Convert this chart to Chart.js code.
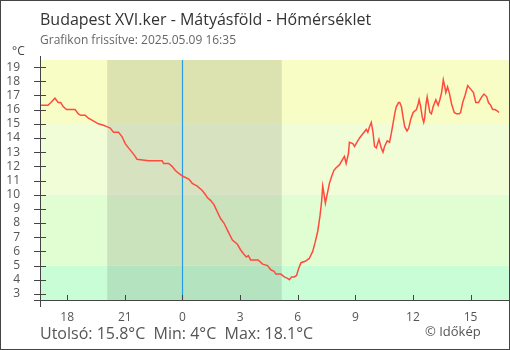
<!DOCTYPE html>
<html><head><meta charset="utf-8">
<script src="https://cdn.jsdelivr.net/npm/chart.js@4"></script>
<style>
html,body{margin:0;padding:0;background:#fff;}
#wrap{position:relative;width:510px;height:350px;font-family:"Open Sans",sans-serif;overflow:hidden;}
canvas{position:absolute;left:0;top:0;}
.t{position:absolute;white-space:pre;}
</style></head><body>
<div id="wrap">
<canvas id="c" width="510" height="350"></canvas>
<div class="t" id="title" style="left:40px;top:11px;font-size:16px;line-height:16px;color:#333">Budapest XVI.ker - Mátyásföld - Hőmérséklet</div>
<div class="t" id="sub" style="left:40px;top:34px;font-size:12px;line-height:12px;color:#666">Grafikon frissítve: 2025.05.09 16:35</div>
<div class="t" id="unit" style="left:12px;top:45px;font-size:12px;line-height:12px;color:#444">°C</div>
<div class="t" id="foot" style="left:40px;top:325px;font-size:16px;line-height:16px;color:#555"></div>
<div class="t" id="copy" style="left:425px;top:325px;font-size:13px;line-height:13px;color:#555">© Időkép</div>
</div>
<script>
// hours relative to midnight of 2025.05.09 (negative = previous evening)
const hours = [-7.42,-7.0,-6.85,-6.64,-6.47,-6.34,-6.2,-6.03,-5.73,-5.59,-5.42,-5.3,-5.07,-4.9,-4.64,-4.38,-4.11,-3.94,-3.76,-3.59,-3.33,-3.15,-2.98,-2.81,-2.63,-2.46,-2.37,-1.76,-1.06,-0.98,-0.72,-0.54,-0.37,-0.19,0.02,0.33,0.51,0.77,1.03,1.2,1.29,1.46,1.64,1.81,1.99,2.16,2.34,2.6,2.86,3.03,3.2,3.33,3.43,3.55,3.82,3.94,4.17,4.43,4.6,4.77,4.86,5.12,5.3,5.47,5.56,5.68,5.82,5.94,6.05,6.17,6.39,6.6,6.78,6.9,7.04,7.16,7.25,7.3,7.34,7.44,7.56,7.65,7.77,7.88,8.0,8.17,8.3,8.43,8.52,8.64,8.69,8.87,8.96,9.04,9.22,9.39,9.57,9.65,9.74,9.83,9.92,10.0,10.09,10.23,10.35,10.44,10.52,10.66,10.78,10.87,10.96,11.05,11.13,11.25,11.31,11.4,11.48,11.57,11.69,11.78,11.88,12.01,12.18,12.27,12.32,12.39,12.48,12.56,12.61,12.67,12.74,12.79,12.88,12.96,13.05,13.19,13.31,13.4,13.49,13.58,13.66,13.71,13.8,13.89,14.01,14.15,14.27,14.41,14.48,14.59,14.71,14.85,14.97,15.15,15.27,15.41,15.58,15.7,15.84,15.93,16.05,16.15,16.27,16.4,16.48];
const temps = [16.3,16.3,16.5,16.8,16.5,16.5,16.2,16.0,16.0,16.0,15.7,15.6,15.6,15.4,15.2,15.0,14.9,14.8,14.7,14.4,14.4,14.1,13.6,13.3,13.0,12.7,12.5,12.4,12.4,12.2,12.2,12.0,11.7,11.5,11.3,11.1,10.8,10.6,10.3,10.0,9.8,9.6,9.3,8.8,8.3,8.0,7.5,6.8,6.5,6.1,5.8,5.6,5.7,5.4,5.4,5.4,5.1,5.0,4.7,4.6,4.4,4.4,4.2,4.1,4.0,4.2,4.2,4.3,4.8,5.2,5.3,5.5,6.0,6.6,7.4,8.5,9.6,10.6,10.3,9.4,10.2,10.8,11.3,11.7,11.9,12.1,12.4,12.7,12.2,12.9,13.7,13.6,13.4,13.6,14.0,14.3,14.6,14.4,14.8,15.1,14.4,13.4,13.3,13.9,13.3,13.0,13.4,13.8,13.7,14.3,15.0,15.7,16.2,16.5,16.5,16.2,15.5,14.8,14.5,14.7,15.3,15.8,16.0,16.4,16.7,16.3,15.5,15.1,15.4,16.3,16.9,16.5,15.8,15.7,16.2,16.7,16.3,16.7,17.2,18.1,17.6,17.2,17.6,17.2,16.4,15.8,15.7,15.7,15.8,16.5,17.0,17.7,17.5,17.2,16.5,16.5,16.9,17.1,16.9,16.5,16.3,16.0,16.0,15.9,15.8];
const xTickHours = [-6,-3,0,3,6,9,12,15];
const xTickLabels = ['18','21','0','3','6','9','12','15'];
const yTickValues = [3,4,5,6,7,8,9,10,11,12,13,14,15,16,17,18,19];
const bandEdges = [2.5,5,10,15,19.5];
const nightStart = -3.92, nightEnd = 5.17, midnight = 0;
const xStart = -7.417, xEnd = 17.0;

const bandColors = ['#c9fdd6','#e1fdd2','#f0fdd6','#f7fdc5'];

const last = temps[temps.length-1], tmin = Math.min(...temps), tmax = Math.max(...temps);
document.getElementById('foot').textContent = 'Utolsó: ' + last + '°C  Min: ' + tmin + '°C  Max: ' + tmax + '°C';

const deco = {
  id:'deco',
  beforeDatasetsDraw(chart){
    const {ctx, chartArea:a, scales:{x,y}} = chart;
    ctx.save();
    for(let i=0;i<bandColors.length;i++){
      const yt = y.getPixelForValue(bandEdges[i+1]), yb = y.getPixelForValue(bandEdges[i]);
      ctx.fillStyle = bandColors[i];
      ctx.fillRect(a.left, yt, a.right-a.left, yb-yt);
    }
    const x0 = x.getPixelForValue(nightStart), x1 = x.getPixelForValue(nightEnd);
    ctx.fillStyle = 'rgba(0,0,0,0.1)';
    ctx.fillRect(x0, a.top, x1-x0, a.bottom-a.top);
    const xm = Math.round(x.getPixelForValue(midnight))+0.5;
    ctx.strokeStyle = '#2a9be8'; ctx.lineWidth = 1.2;
    ctx.beginPath(); ctx.moveTo(xm, a.top); ctx.lineTo(xm, a.bottom); ctx.stroke();
    ctx.restore();
  },
  afterDraw(chart){
    const {ctx, chartArea:a, scales:{x,y}} = chart;
    ctx.save();
    ctx.strokeStyle = '#444'; ctx.lineWidth = 1;
    const lx = Math.round(a.left)+0.5, by = Math.round(a.bottom)-0.5;
    ctx.beginPath();
    ctx.moveTo(lx, a.top-4); ctx.lineTo(lx, a.bottom+6);
    ctx.moveTo(a.left-6, by); ctx.lineTo(a.right, by);
    yTickValues.forEach(v=>{ const py = Math.round(y.getPixelForValue(v))+0.5; ctx.moveTo(a.left-6, py); ctx.lineTo(a.left+6, py); });
    xTickHours.forEach(v=>{ const px = Math.round(x.getPixelForValue(v))+0.5; ctx.moveTo(px, a.bottom-6); ctx.lineTo(px, a.bottom); });
    ctx.stroke();
    ctx.strokeStyle = '#444';
    ctx.strokeRect(0.5,0.5,chart.width-1,chart.height-1);
    ctx.restore();
  }
};

new Chart(document.getElementById('c'), {
  type:'line',
  data:{datasets:[{
    data: hours.map((h,i)=>({x:h,y:temps[i]})),
    borderColor:'#ff4a3d', borderWidth:1.5, pointRadius:0, tension:0, fill:false
  }]},
  options:{
    responsive:false, animation:false, devicePixelRatio:1,
    layout:{padding:{top:60,right:1,left:0,bottom:0}},
    plugins:{legend:{display:false}, tooltip:{enabled:false}},
    scales:{
      x:{type:'linear', min:xStart, max:xEnd,
        afterBuildTicks(s){ s.ticks = xTickHours.map(v=>({value:v})); },
        afterFit(s){ s.height = 49; },
        grid:{display:false, drawTicks:false}, border:{display:false},
        ticks:{autoSkip:false, maxRotation:0, padding:9, color:'#555', font:{family:'Open Sans', size:12},
          callback:(v,i)=>xTickLabels[i]}
      },
      y:{type:'linear', min:2.5, max:19.5,
        afterBuildTicks(s){ s.ticks = yTickValues.map(v=>({value:v})); },
        afterFit(s){ s.width = 40; },
        grid:{display:false, drawTicks:false}, border:{display:false},
        ticks:{autoSkip:false, padding:20, color:'#555', font:{family:'Open Sans', size:12}}
      }
    }
  },
  plugins:[deco]
});
</script>
</body></html>
